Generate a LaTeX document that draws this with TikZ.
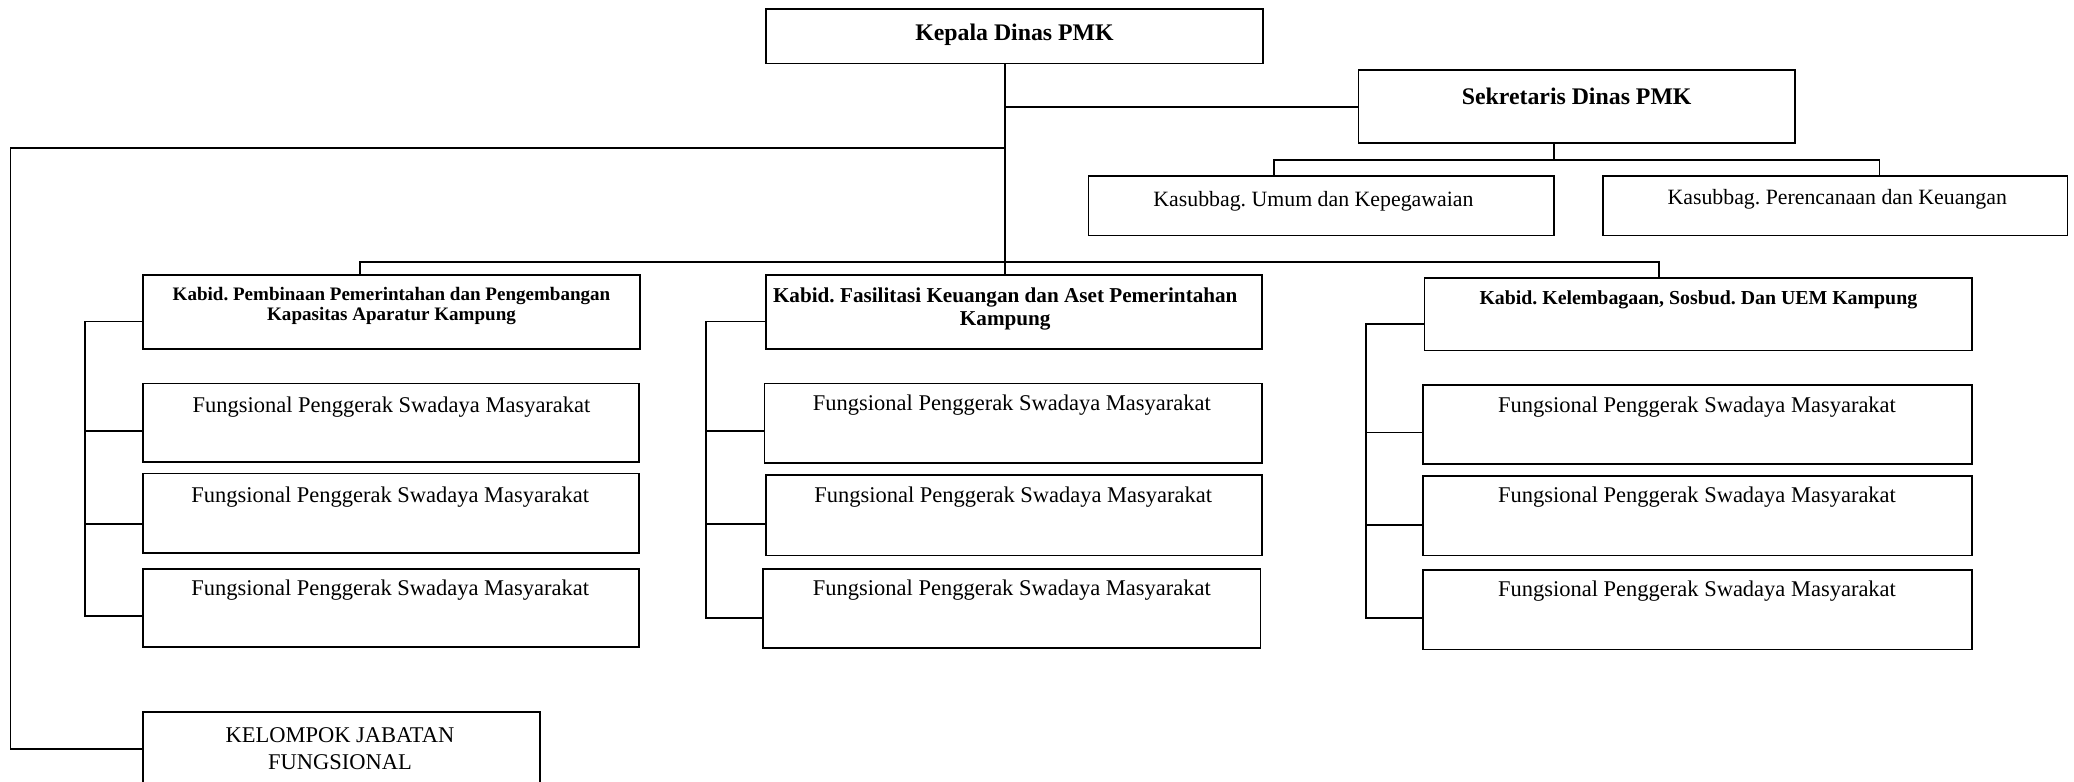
\documentclass[tikz,border=0pt]{standalone}
\usepackage{fontspec}
\setmainfont{Liberation Serif}
\newcommand\OrgBox[5]{\node[box, minimum width={#4-#2}, minimum height={#5-#3}] (#1) at ({(#2+#4)/2},{(#3+#5)/2}) {};}
\begin{document}
\frenchspacing
\begin{tikzpicture}[x=1pt,y=-1pt,
  box/.style={draw, line width=1.35pt, inner sep=0pt},
  conn/.style={line width=1.35pt},
  reg/.style={font=\fontsize{17}{20}\selectfont, inner sep=0pt, align=center},
  kas/.style={font=\fontsize{16.5}{20}\selectfont, inner sep=0pt},
  head/.style={font=\bfseries\fontsize{18}{21}\selectfont, inner sep=0pt},
  kabA/.style={font=\bfseries\fontsize{14.4}{15}\selectfont, inner sep=0pt, align=center},
  kabB/.style={font=\bfseries\fontsize{16}{17}\selectfont, inner sep=0pt, align=center},
  kabC/.style={font=\bfseries\fontsize{15}{17}\selectfont, inner sep=0pt}]
\useasboundingbox (0,0) rectangle (1568,591);

% boxes
\OrgBox{kepala}{579}{7}{955}{48}
\OrgBox{sek}{1027}{53}{1357}{108}
\OrgBox{kas1}{823}{133}{1175}{178}
\OrgBox{kas2}{1212}{133}{1563}{178}
\OrgBox{kab1}{108}{208}{484}{264}
\OrgBox{kab2}{579}{208}{954}{264}
\OrgBox{kab3}{1077}{210}{1491}{265}
\OrgBox{f1a}{108}{290}{483}{349}
\OrgBox{f1b}{108}{358}{483}{418}
\OrgBox{f1c}{108}{430}{483}{489}
\OrgBox{f2a}{578}{290}{954}{350}
\OrgBox{f2b}{579}{359}{954}{420}
\OrgBox{f2c}{577}{430}{953}{490}
\OrgBox{f3a}{1076}{291}{1491}{351}
\OrgBox{f3b}{1076}{360}{1491}{420}
\OrgBox{f3c}{1076}{431}{1491}{491}
\OrgBox{kel}{108}{538}{408}{596}

% texts
\node[head] (kepala-t) at (767,26) {Kepala Dinas PMK};
\node[head] (sek-t) at (1192,73) {Sekretaris Dinas PMK};
\node[kas] (kas1-t) at (993,152) {Kasubbag. Umum dan Kepegawaian};
\node[kas] (kas2-t) at (1389,151) {Kasubbag. Perencanaan dan Keuangan};
\node[kabA] (kab1-t) at (296,231.5) {Kabid. Pembinaan Pemerintahan dan Pengembangan\\Kapasitas Aparatur Kampung};
\node[kabB] (kab2-t) at (760,233.5) {Kabid. Fasilitasi Keuangan dan Aset Pemerintahan\\Kampung};
\node[kabC] (kab3-t) at (1284,227) {Kabid. Kelembagaan, Sosbud. Dan UEM Kampung};
\node[reg] (f1a-t) at (296,308) {Fungsional Penggerak Swadaya Masyarakat};
\node[reg] (f1b-t) at (295,376) {Fungsional Penggerak Swadaya Masyarakat};
\node[reg] (f1c-t) at (295,446) {Fungsional Penggerak Swadaya Masyarakat};
\node[reg] (f2a-t) at (765,306) {Fungsional Penggerak Swadaya Masyarakat};
\node[reg] (f2b-t) at (766,376) {Fungsional Penggerak Swadaya Masyarakat};
\node[reg] (f2c-t) at (765,446) {Fungsional Penggerak Swadaya Masyarakat};
\node[reg] (f3a-t) at (1283,308) {Fungsional Penggerak Swadaya Masyarakat};
\node[reg] (f3b-t) at (1283,376) {Fungsional Penggerak Swadaya Masyarakat};
\node[reg] (f3c-t) at (1283,447) {Fungsional Penggerak Swadaya Masyarakat};
\node[reg] (kel-t) at (257,566) {KELOMPOK JABATAN\\FUNGSIONAL};

% junction coordinates
\coordinate (spine) at (760,0);
\coordinate (jsek) at (760,81);
\coordinate (jleft) at (760,112);
\coordinate (lcorner) at (8,112);
\coordinate (lbottom) at (8,566);
\coordinate (bus1) at (272,198);
\coordinate (bus3) at (1254,198);
\coordinate (sdown) at (1175,121);
\coordinate (sl) at (963,121);
\coordinate (sr) at (1421,121);

% main spine
\draw[conn] (kepala.south -| spine) -- (kab2.north -| spine);
\draw[conn] (jsek) -- (jsek -| sek.west);
\draw[conn] (jleft) -- (lcorner) -- (lbottom) -- (lbottom -| kel.west);
\draw[conn] (bus1 |- kab1.north) -- (bus1) -- (bus3) -- (bus3 |- kab3.north);

% secretary branch
\draw[conn] (sek.south -| sdown) -- (sdown);
\draw[conn] (sl |- kas1.north) -- (sl) -- (sr) -- (sr |- kas2.north);

% brackets
\coordinate (b1a) at (64,243);
\coordinate (b1b) at (64,326);
\coordinate (b1c) at (64,396);
\coordinate (b1d) at (64,466);
\draw[conn] (b1a -| kab1.west) -- (b1a) -- (b1d) -- (b1d -| f1c.west);
\draw[conn] (b1b) -- (b1b -| f1a.west);
\draw[conn] (b1c) -- (b1c -| f1b.west);

\coordinate (b2a) at (534,243);
\coordinate (b2b) at (534,326);
\coordinate (b2c) at (534,396);
\coordinate (b2d) at (534,467);
\draw[conn] (b2a -| kab2.west) -- (b2a) -- (b2d) -- (b2d -| f2c.west);
\draw[conn] (b2b) -- (b2b -| f2a.west);
\draw[conn] (b2c) -- (b2c -| f2b.west);

\coordinate (b3a) at (1033,245);
\coordinate (b3b) at (1033,327);
\coordinate (b3c) at (1033,397);
\coordinate (b3d) at (1033,467);
\draw[conn] (b3a -| kab3.west) -- (b3a) -- (b3d) -- (b3d -| f3c.west);
\draw[conn] (b3b) -- (b3b -| f3a.west);
\draw[conn] (b3c) -- (b3c -| f3b.west);
\end{tikzpicture}
\end{document}
